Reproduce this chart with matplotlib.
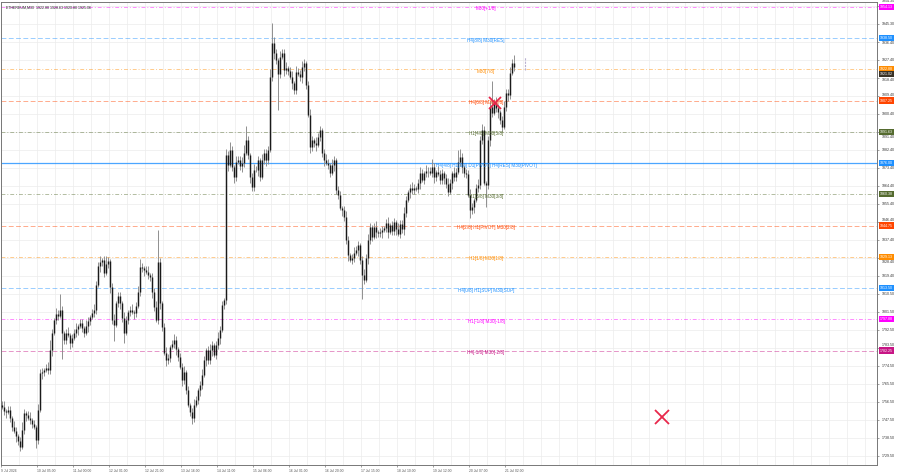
import numpy as np
import matplotlib
matplotlib.use("Agg")
import matplotlib.pyplot as plt
from matplotlib.transforms import blended_transform_factory

plt.rcParams['font.family'] = ['Liberation Sans', 'DejaVu Sans']

# chart title (symbol, timeframe, O H L C)
title = "ETHEREUM,M30  1922.80 1928.63 1920.88 1925.06"

# closing prices, one per bar
closes = [
    1754.0, 1752.0, 1751.5, 1752.5, 1748.5, 1744.0, 1742.0, 1739.5, 1737.0, 1734.0, 1742.5, 1751.0, 1750.0, 1748.5, 1747.5, 1745.5,
    1744.0, 1737.5, 1752.5, 1771.0, 1771.5, 1772.5, 1773.5, 1772.5, 1782.5, 1791.0, 1797.5, 1800.5, 1799.5, 1802.5, 1791.0, 1787.5,
    1791.0, 1790.0, 1786.0, 1788.5, 1791.0, 1793.0, 1794.5, 1796.0, 1793.5, 1791.0, 1794.5, 1797.0, 1799.0, 1801.0, 1802.5, 1815.0,
    1824.5, 1826.5, 1827.5, 1821.0, 1825.5, 1827.0, 1814.0, 1797.5, 1795.0, 1806.0, 1809.5, 1806.0, 1798.5, 1791.0, 1797.5, 1801.5,
    1802.5, 1801.5, 1801.0, 1804.5, 1811.5, 1824.0, 1823.5, 1822.5, 1821.5, 1820.0, 1819.0, 1811.5, 1804.0, 1797.5, 1826.5, 1806.0,
    1794.0, 1781.0, 1777.5, 1778.5, 1784.0, 1785.5, 1787.5, 1783.0, 1779.0, 1774.0, 1767.5, 1771.5, 1762.5, 1755.0, 1751.5, 1748.5,
    1755.0, 1757.5, 1762.5, 1765.0, 1770.0, 1777.5, 1782.5, 1777.5, 1782.5, 1785.0, 1780.0, 1785.0, 1788.5, 1792.5, 1805.0, 1807.5,
    1880.0, 1875.0, 1882.5, 1874.0, 1869.0, 1876.5, 1877.5, 1874.5, 1876.0, 1881.0, 1887.5, 1880.0, 1869.0, 1864.0, 1872.5, 1872.5,
    1877.5, 1869.0, 1877.5, 1881.0, 1877.5, 1882.5, 1919.0, 1936.0, 1931.0, 1927.5, 1920.5, 1929.0, 1931.0, 1922.5, 1923.5, 1922.0,
    1919.0, 1916.0, 1912.5, 1921.5, 1920.5, 1919.0, 1924.0, 1926.0, 1915.0, 1900.0, 1884.0, 1887.5, 1886.0, 1885.0, 1889.0, 1892.5,
    1881.0, 1877.5, 1876.0, 1875.0, 1871.0, 1875.0, 1877.5, 1862.5, 1860.0, 1853.5, 1852.5, 1849.0, 1837.5, 1830.0, 1827.5, 1828.5,
    1831.0, 1832.5, 1835.0, 1827.5, 1820.0, 1817.5, 1828.5, 1837.5, 1844.0, 1839.0, 1844.0, 1841.5, 1841.0, 1841.5, 1842.5, 1843.5,
    1846.0, 1841.5, 1845.0, 1842.0, 1846.5, 1843.0, 1840.5, 1845.5, 1843.0, 1851.0, 1857.5, 1861.5, 1863.5, 1862.5, 1863.5, 1863.0,
    1866.0, 1871.0, 1867.5, 1871.0, 1872.0, 1872.0, 1871.0, 1874.0, 1869.0, 1871.5, 1870.5, 1867.5, 1871.0, 1868.5, 1865.5, 1861.5,
    1866.0, 1871.0, 1869.0, 1871.5, 1876.5, 1879.0, 1874.0, 1871.0, 1870.5, 1860.0, 1852.5, 1854.0, 1857.5, 1863.5, 1865.0, 1887.5,
    1892.5, 1866.0, 1865.0, 1887.5, 1904.0, 1901.0, 1906.0, 1903.5, 1901.5, 1897.5, 1894.0, 1904.0, 1911.0, 1910.0, 1921.0, 1926.0,
    1924.0,
]

# upper / lower shadow length above/below the body
up_wick = [
    2, 3, 1, 2, 2, 1, 3, 2, 1, 2, 4, 2, 1, 2, 3, 1,
    2, 1, 3, 2, 2, 1, 2, 3, 5, 2, 1, 3, 2, 8, 2, 1,
    2, 3, 1, 2, 2, 3, 1, 2, 2, 1, 3, 2, 1, 2, 3, 2,
    2, 3, 1, 2, 4, 2, 1, 2, 3, 1, 2, 2, 1, 3, 2, 1,
    2, 3, 1, 2, 3, 4, 2, 1, 2, 3, 1, 2, 2, 3, 16, 2,
    1, 2, 3, 2, 1, 2, 3, 2, 1, 2, 2, 3, 1, 2, 1, 2,
    3, 2, 1, 2, 3, 2, 1, 2, 3, 2, 1, 2, 3, 2, 2, 1,
    3, 2, 4, 2, 1, 3, 2, 2, 3, 4, 7, 2, 1, 2, 3, 2,
    2, 1, 3, 2, 2, 2, 4, 10, 3, 2, 1, 3, 2, 2, 3, 1,
    2, 3, 1, 3, 2, 2, 3, 2, 1, 2, 3, 2, 1, 3, 2, 2,
    1, 2, 3, 2, 1, 3, 2, 1, 2, 2, 1, 2, 3, 2, 1, 2,
    3, 2, 2, 1, 2, 3, 2, 3, 2, 1, 2, 3, 1, 2, 2, 1,
    2, 3, 1, 2, 2, 1, 3, 2, 2, 3, 2, 1, 2, 3, 2, 1,
    2, 3, 2, 1, 3, 2, 2, 4, 2, 1, 3, 2, 2, 1, 2, 3,
    2, 1, 3, 2, 6, 4, 2, 1, 2, 2, 3, 2, 1, 2, 3, 2,
    3, 2, 1, 2, 3, 13, 2, 3, 2, 1, 2, 3, 2, 2, 3, 2,
    4,
]
dn_wick = [
    1, 2, 3, 1, 2, 2, 1, 3, 2, 2, 1, 2, 3, 1, 2, 2,
    1, 4, 2, 1, 3, 2, 1, 2, 2, 3, 1, 2, 2, 1, 13, 2,
    2, 1, 3, 2, 1, 2, 3, 1, 2, 2, 1, 3, 2, 1, 2, 2,
    1, 3, 2, 2, 1, 2, 3, 2, 8, 1, 2, 3, 2, 5, 1, 2,
    2, 1, 3, 2, 1, 2, 2, 3, 1, 2, 2, 3, 2, 1, 2, 3,
    2, 1, 3, 2, 2, 1, 2, 3, 2, 1, 3, 2, 2, 1, 2, 3,
    2, 1, 2, 3, 2, 1, 3, 2, 2, 3, 1, 2, 2, 3, 1, 2,
    2, 3, 1, 2, 3, 2, 1, 2, 3, 2, 1, 2, 3, 2, 2, 1,
    3, 2, 1, 2, 3, 2, 1, 2, 3, 2, 18, 2, 1, 3, 2, 2,
    1, 3, 2, 2, 1, 2, 3, 2, 2, 1, 3, 2, 2, 3, 1, 2,
    2, 3, 1, 2, 2, 1, 3, 2, 2, 1, 3, 2, 2, 3, 1, 2,
    2, 1, 3, 2, 12, 2, 1, 3, 2, 2, 1, 3, 2, 2, 3, 1,
    2, 3, 1, 2, 2, 3, 1, 2, 2, 3, 2, 1, 3, 2, 2, 1,
    2, 3, 1, 2, 2, 3, 1, 2, 3, 2, 1, 2, 2, 3, 2, 2,
    1, 3, 2, 2, 1, 2, 3, 2, 2, 1, 4, 2, 3, 1, 2, 2,
    2, 1, 11, 2, 3, 2, 1, 2, 3, 2, 2, 1, 2, 3, 2, 1,
    2,
]

time_labels = ["9 Jul 2026", "10 Jul 05:00", "11 Jul 00:00", "12 Jul 01:00", "12 Jul 21:00",
               "13 Jul 16:00", "14 Jul 11:00", "15 Jul 06:00", "16 Jul 01:00", "16 Jul 20:00",
               "17 Jul 15:00", "18 Jul 10:00", "19 Jul 12:00", "20 Jul 07:00", "21 Jul 02:00"]

price_ticks = ["1954.35", "1945.30", "1936.40", "1927.40", "1918.40", "1909.40", "1900.40",
               "1891.40", "1882.40", "1873.40", "1864.40", "1855.40", "1846.40", "1837.40",
               "1828.40", "1819.40", "1810.50", "1801.50", "1792.50", "1783.50", "1774.50",
               "1765.50", "1756.50", "1747.50", "1738.50", "1729.50"]

# murrey math levels
level_prices = [1954.13, 1938.50, 1922.88, 1907.25, 1891.63, 1876.00,
                1860.38, 1844.75, 1829.13, 1813.50, 1797.88, 1782.25]
level_names = ["M30[+1/8]", "H4[8/8] M30[RES]", "M30[7/8]", "H4[6/8] M30[6/8]",
               "H1[4/8] M30[5/8]", "H4[4/8] H1[3/8] D1[PIVOT] H4[RES] M30[PIVOT]",
               "H1[3/8] M30[3/8]", "H4[2/8] H1[PIVOT] M30[2/8]", "H1[1/8] M30[1/8]",
               "H4[0/8] H1[SUP] M30[SUP]", "H1[-1/8] M30[-1/8]", "H4[-1/8] M30[-2/8]"]
level_colors = ["#ff00ff", "#1e90ff", "#ff8c00", "#ff4500", "#556b2f", "#1e90ff",
                "#556b2f", "#ff4500", "#ff8c00", "#1e90ff", "#ff00ff", "#c71585"]
level_kinds = ["dashdot", "dashed", "dashdot", "dashed", "dashdot", "solid",
               "dashdot", "dashed", "dashdot", "dashed", "dashdot", "dashed"]

bid_price = 1921.02

# red crosses (bar index, price, size)
cross_bar = [330, 246.5]
cross_price = [1749.0, 1906.0]
cross_size = [10, 9]

# short marker line to the right of the last bar
mark_bar = 261.5
mark_lo, mark_hi = 1922.5, 1929.0

styles = {"solid": "-", "dashed": (0, (5, 2.5)), "dashdot": (0, (4, 2, 1, 2))}

fig = plt.figure(figsize=(9, 4.74), dpi=100)
ax = fig.add_axes([1 / 900, 9 / 474, 876 / 900, 463 / 474])
ax.set_facecolor("white")

n = len(closes)
idx = np.arange(n)
c = np.array(closes)
o = np.concatenate([[closes[0] + 1.0], c[:-1]])
hi = np.maximum(o, c) + np.array(up_wick[:n])
lo = np.minimum(o, c) - np.array(dn_wick[:n])

ax.vlines(idx, lo, hi, color="#8f8f8f", lw=0.7, zorder=3)
ax.vlines(idx, o, c, color="#1a1a1a", lw=1.05, zorder=4)

# grid
for gx in np.arange(-0.5, 438, 9):
    ax.axvline(gx, color="#ececec", lw=0.5, zorder=0)
for t in price_ticks:
    ax.axhline(float(t), color="#ececec", lw=0.5, zorder=0)

trans = blended_transform_factory(ax.transAxes, ax.transData)
box_prices = []
for p, name, col, kind in zip(level_prices, level_names, level_colors, level_kinds):
    if kind == "solid":
        ax.axhline(p, color=col, lw=0.9, alpha=0.8, zorder=2)
    else:
        ax.axhline(p, color=col, lw=0.7, ls=styles[kind], alpha=0.45, zorder=2)
    ax.text(242, p - 1.0, name, color=col, fontsize=3.3, ha="center", va="center", zorder=5)
    ax.text(1.003, p, f"{p:.2f}", transform=trans, color="white", fontsize=2.6,
            ha="left", va="center", clip_on=False, zorder=8,
            bbox=dict(boxstyle="square,pad=0.3", fc=col, ec="none"))
    box_prices.append(p)

ax.text(1.003, bid_price - 0.6, f"{bid_price:.2f}", transform=trans, color="white", fontsize=2.6,
        ha="left", va="center", clip_on=False, zorder=8,
        bbox=dict(boxstyle="square,pad=0.3", fc="#3a3226", ec="none"))
box_prices.append(bid_price - 0.6)

for b, p, s in zip(cross_bar, cross_price, cross_size):
    ax.plot(b, p, marker="x", ms=s, mew=1.3, color="#e8274b", zorder=6)

ax.vlines(mark_bar, mark_lo, mark_hi, color="#b8b0d0", lw=0.8, ls=(0, (2, 1)), zorder=3)

ax.set_xlim(-0.5, 437.5)
ax.set_ylim(1725.0, 1956.5)

ax.set_xticks(np.arange(len(time_labels)) * 18 - 0.5)
ax.set_xticklabels(time_labels, fontsize=2.4, ha="left", color="#333333")
ax.yaxis.tick_right()
ax.set_yticks([float(t) for t in price_ticks])
ax.set_yticklabels([])
ax.tick_params(axis="both", length=1.5, width=0.4, pad=1.2, colors="#555555")

# price scale labels, pushed off the coloured price boxes
for t in price_ticks:
    v = float(t)
    pos = v
    for bp in sorted(box_prices, key=lambda q: abs(q - v)):
        if abs(pos - bp) < 2.7:
            pos = bp + 2.7 if v >= bp else bp - 2.7
    ax.text(1.005, pos, t, transform=trans, fontsize=2.6, color="#333333",
            ha="left", va="center", clip_on=False, zorder=7)

for sp in ax.spines.values():
    sp.set_color("#777777")
    sp.set_linewidth(0.7)

ax.text(0.006, 0.993, title, transform=ax.transAxes, fontsize=2.6, color="#222222",
        ha="left", va="top", zorder=7)

fig.savefig("out.png", dpi=100, facecolor="white")
